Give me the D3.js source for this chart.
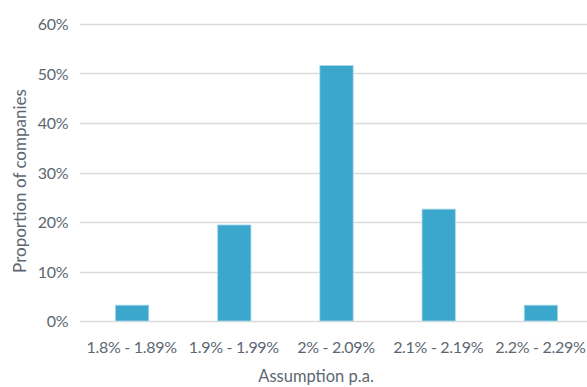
<!DOCTYPE html>
<html>
<head>
<meta charset="utf-8">
<script src="https://cdn.jsdelivr.net/npm/d3@7"></script>
<style>
  html, body { margin: 0; padding: 0; background: #fff; }
  svg { display: block; }
  text { font-family: Lato, "Noto Sans", sans-serif; fill: #5c6771; font-weight: 400; }
</style>
</head>
<body>
<svg id="chart" width="587" height="387"></svg>
<script>
// Distribution of the assumption across companies
const categories = ["1.8% - 1.89%", "1.9% - 1.99%", "2% - 2.09%", "2.1% - 2.19%", "2.2% - 2.29%"];
const shares = [3.2, 19.4, 51.6, 22.6, 3.2];
const yTicks = [0, 10, 20, 30, 40, 50, 60];
const xTitle = "Assumption p.a.";
const yTitle = "Proportion of companies";

const svg = d3.select("#chart");
const plotLeft = 81, plotRight = 592, plotTop = 24, plotBottom = 321;

const x = d3.scaleBand().domain(categories).range([plotLeft, plotRight]).paddingInner(0.674).paddingOuter(0.337);
const y = d3.scaleLinear().domain([0, 60]).range([plotBottom, plotTop]);

// horizontal gridlines
svg.append("g")
  .selectAll("line")
  .data(yTicks)
  .join("line")
  .attr("x1", plotLeft - 1)
  .attr("x2", 587)
  .attr("y1", d => Math.round(y(d)) + 0.5)
  .attr("y2", d => Math.round(y(d)) + 0.5)
  .attr("stroke", "#dcdcdc")
  .attr("stroke-width", 1.5);

const fontFamily = "Lato, 'Noto Sans', sans-serif";

// y axis labels
const yAxis = d3.axisLeft(y).tickValues(yTicks).tickFormat(d => d + "%").tickSize(0).tickPadding(0);
const gy = svg.append("g").attr("transform", "translate(68.5,0)").call(yAxis);
gy.select(".domain").remove();
gy.selectAll("text")
  .style("font-family", fontFamily)
  .style("font-size", "16px")
  .style("letter-spacing", "-0.2px")
  .attr("dy", "0.35em")
  .style("fill", "#5c6771");

// bars
svg.append("g")
  .selectAll("rect")
  .data(shares)
  .join("rect")
  .attr("x", (d, i) => x(categories[i]))
  .attr("width", x.bandwidth())
  .attr("y", d => y(d))
  .attr("height", d => y(0) - y(d))
  .attr("fill", "#3ba7cd")
  .attr("stroke", "#a9d9ea")
  .attr("stroke-width", 0.8);

// x axis labels
const xAxis = d3.axisBottom(x).tickSize(0).tickPadding(0);
const gx = svg.append("g").attr("transform", "translate(-0.5,353)").call(xAxis);
gx.select(".domain").remove();
gx.selectAll("text")
  .style("font-family", fontFamily)
  .style("font-size", "16px")
  .style("letter-spacing", "-0.3px")
  .attr("dy", 0)
  .style("fill", "#5c6771");

// axis titles
svg.append("text")
  .attr("x", 316)
  .attr("y", 382)
  .attr("text-anchor", "middle")
  .style("font-size", "16.5px")
  .text(xTitle);

svg.append("text")
  .attr("transform", "translate(20,181) rotate(-90)")
  .attr("dy", "0.35em")
  .attr("text-anchor", "middle")
  .style("font-size", "17px")
  .text(yTitle);
</script>
</body>
</html>
